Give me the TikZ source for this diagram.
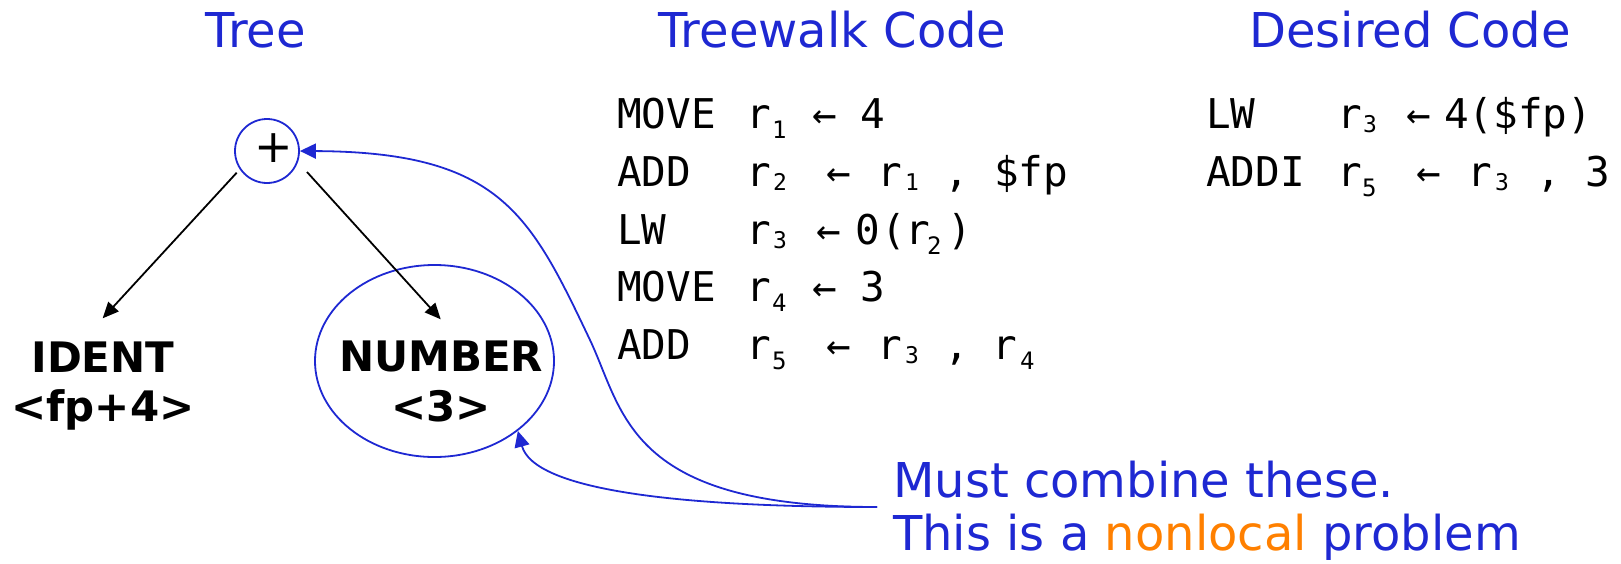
\documentclass[tikz,border=0pt]{standalone}
\usepackage{fontspec}
\usetikzlibrary{arrows.meta,shapes.geometric}
\setmainfont{DejaVu Sans}
\newfontfamily\codefnt{DejaVu Sans Mono}
\newfontfamily\boldfnt{DejaVu Sans}
\definecolor{myblue}{RGB}{30,40,210}
\definecolor{myorange}{RGB}{255,128,0}
\tikzset{
  title/.style={font=\fontsize{48}{56}\selectfont, text=myblue, anchor=base, inner sep=0},
  tlabel/.style={font=\boldfnt\bfseries\fontsize{42}{49}\selectfont, anchor=base, inner sep=0},
  code/.style={font=\codefnt\fontsize{41}{48}\selectfont, anchor=base west, inner sep=0},
  subl/.style={font=\codefnt\fontsize{24}{28}\selectfont, anchor=base west, inner sep=0, yshift=-10pt},
  subu/.style={font=\codefnt\fontsize{23}{27}\selectfont, anchor=base west, inner sep=0, yshift=-4pt},
  note/.style={font=\fontsize{48}{56}\selectfont, text=myblue, anchor=base west, inner sep=0},
  treearrow/.style={line width=1.8pt, -{Triangle[length=16pt,width=14pt]}},
  bluearrow/.style={line width=1.8pt, draw=myblue, -{Triangle[length=16pt,width=15pt]}, myblue},
}
\begin{document}
\begin{tikzpicture}[x=1pt,y=-1pt]
\useasboundingbox (0,0) rectangle (1621,563);
% titles
\node[title] (t1) at (256,47.7) {Tree};
\node[title] (t2) at (832.5,47.7) {Treewalk Code};
\node[title] (t3) at (1410,47.7) {Desired Code};
% tree
\node[circle, draw=myblue, line width=1.8pt, minimum size=64pt, inner sep=0] (plus) at (267,151) {};
\node[font=\fontsize{46}{50}\selectfont, inner sep=0] (plussign) at (274,147.7) {+};
\node[ellipse, draw=myblue, line width=1.8pt, minimum width=239pt, minimum height=192pt, inner sep=0] (num) at (434.5,361) {};
\node[tlabel] (id1) at (103,372.7) {IDENT};
\node[tlabel] (id2) at (103,421) {<fp+4>};
\node[tlabel] (nu1) at (441.3,371.7) {NUMBER};
\node[tlabel] (nu2) at (441.3,421.7) {<3>};
\coordinate (las) at (236.7,172.7);
\coordinate (lae) at (102.7,318.3);
\coordinate (ras) at (307,172);
\coordinate (rae) at (440.7,319.3);
\draw[treearrow] (las) -- (lae);
\draw[treearrow] (ras) -- (rae);
% treewalk code
\node[code] (a1) at (617,128) {MOVE};
\node[code] (a2) at (746,128) {r};
\node[subl] (a3) at (772,128) {1};
\node[code] (a4) at (812,128) {←};
\node[code] (a5) at (860,128) {4};
\node[code] (b1) at (617,186) {ADD};
\node[code] (b2) at (746,186) {r};
\node[subu] (b3) at (773,186) {2};
\node[code] (b4) at (826,186) {←};
\node[code] (b5) at (877,186) {r};
\node[subu] (b6) at (905,186) {1};
\node[code] (b7) at (944,186) {,};
\node[code] (b8) at (994,186) {\$fp};
\node[code] (c1) at (617,244) {LW};
\node[code] (c2) at (746,244) {r};
\node[subu] (c3) at (773,244) {3};
\node[code] (c4) at (816,244) {←};
\node[code] (c5) at (855,244) {0};
\node[code] (c6) at (881,244) {(};
\node[code] (c7) at (905,244) {r};
\node[subl] (c8) at (927,244) {2};
\node[code] (c9) at (947,244) {)};
\node[code] (d1) at (617,301.5) {MOVE};
\node[code] (d2) at (746,301.5) {r};
\node[subl] (d3) at (772,301.5) {4};
\node[code] (d4) at (812,301.5) {←};
\node[code] (d5) at (860,301.5) {3};
\node[code] (e1) at (617,359) {ADD};
\node[code] (e2) at (746,359) {r};
\node[subl] (e3) at (772,359) {5};
\node[code] (e4) at (826,359) {←};
\node[code] (e5) at (877,359) {r};
\node[subu] (e6) at (905,359) {3};
\node[code] (e7) at (944,359) {,};
\node[code] (e8) at (992,359) {r};
\node[subl] (e9) at (1020,359) {4};
% desired code
\node[code] (f1) at (1206,128) {LW};
\node[code] (f2) at (1337,128) {r};
\node[subu] (f3) at (1363,128) {3};
\node[code] (f4) at (1406,128) {←};
\node[code] (f5) at (1444,128) {4(\$fp)};
\node[code] (g1) at (1206,186) {ADDI};
\node[code] (g2) at (1337,186) {r};
\node[subl] (g3) at (1362,186) {5};
\node[code] (g4) at (1416,186) {←};
\node[code] (g5) at (1467,186) {r};
\node[subu] (g6) at (1495,186) {3};
\node[code] (g7) at (1536,186) {,};
\node[code] (g8) at (1585,186) {3};
% note
\node[note] (n1) at (893,497) {Must combine these.};
\node[note] (n2) at (893,550.5) {This is a \textcolor{myorange}{nonlocal} problem};
\coordinate (src) at (877,507);
\draw[bluearrow] (src) .. controls (627,507) and (624,412) .. (590,340)
   .. controls (530,214) and (500,152) .. (plus.east);
\draw[bluearrow] (src) .. controls (677,507) and (534,490) .. (num.-40);
\end{tikzpicture}
\end{document}
